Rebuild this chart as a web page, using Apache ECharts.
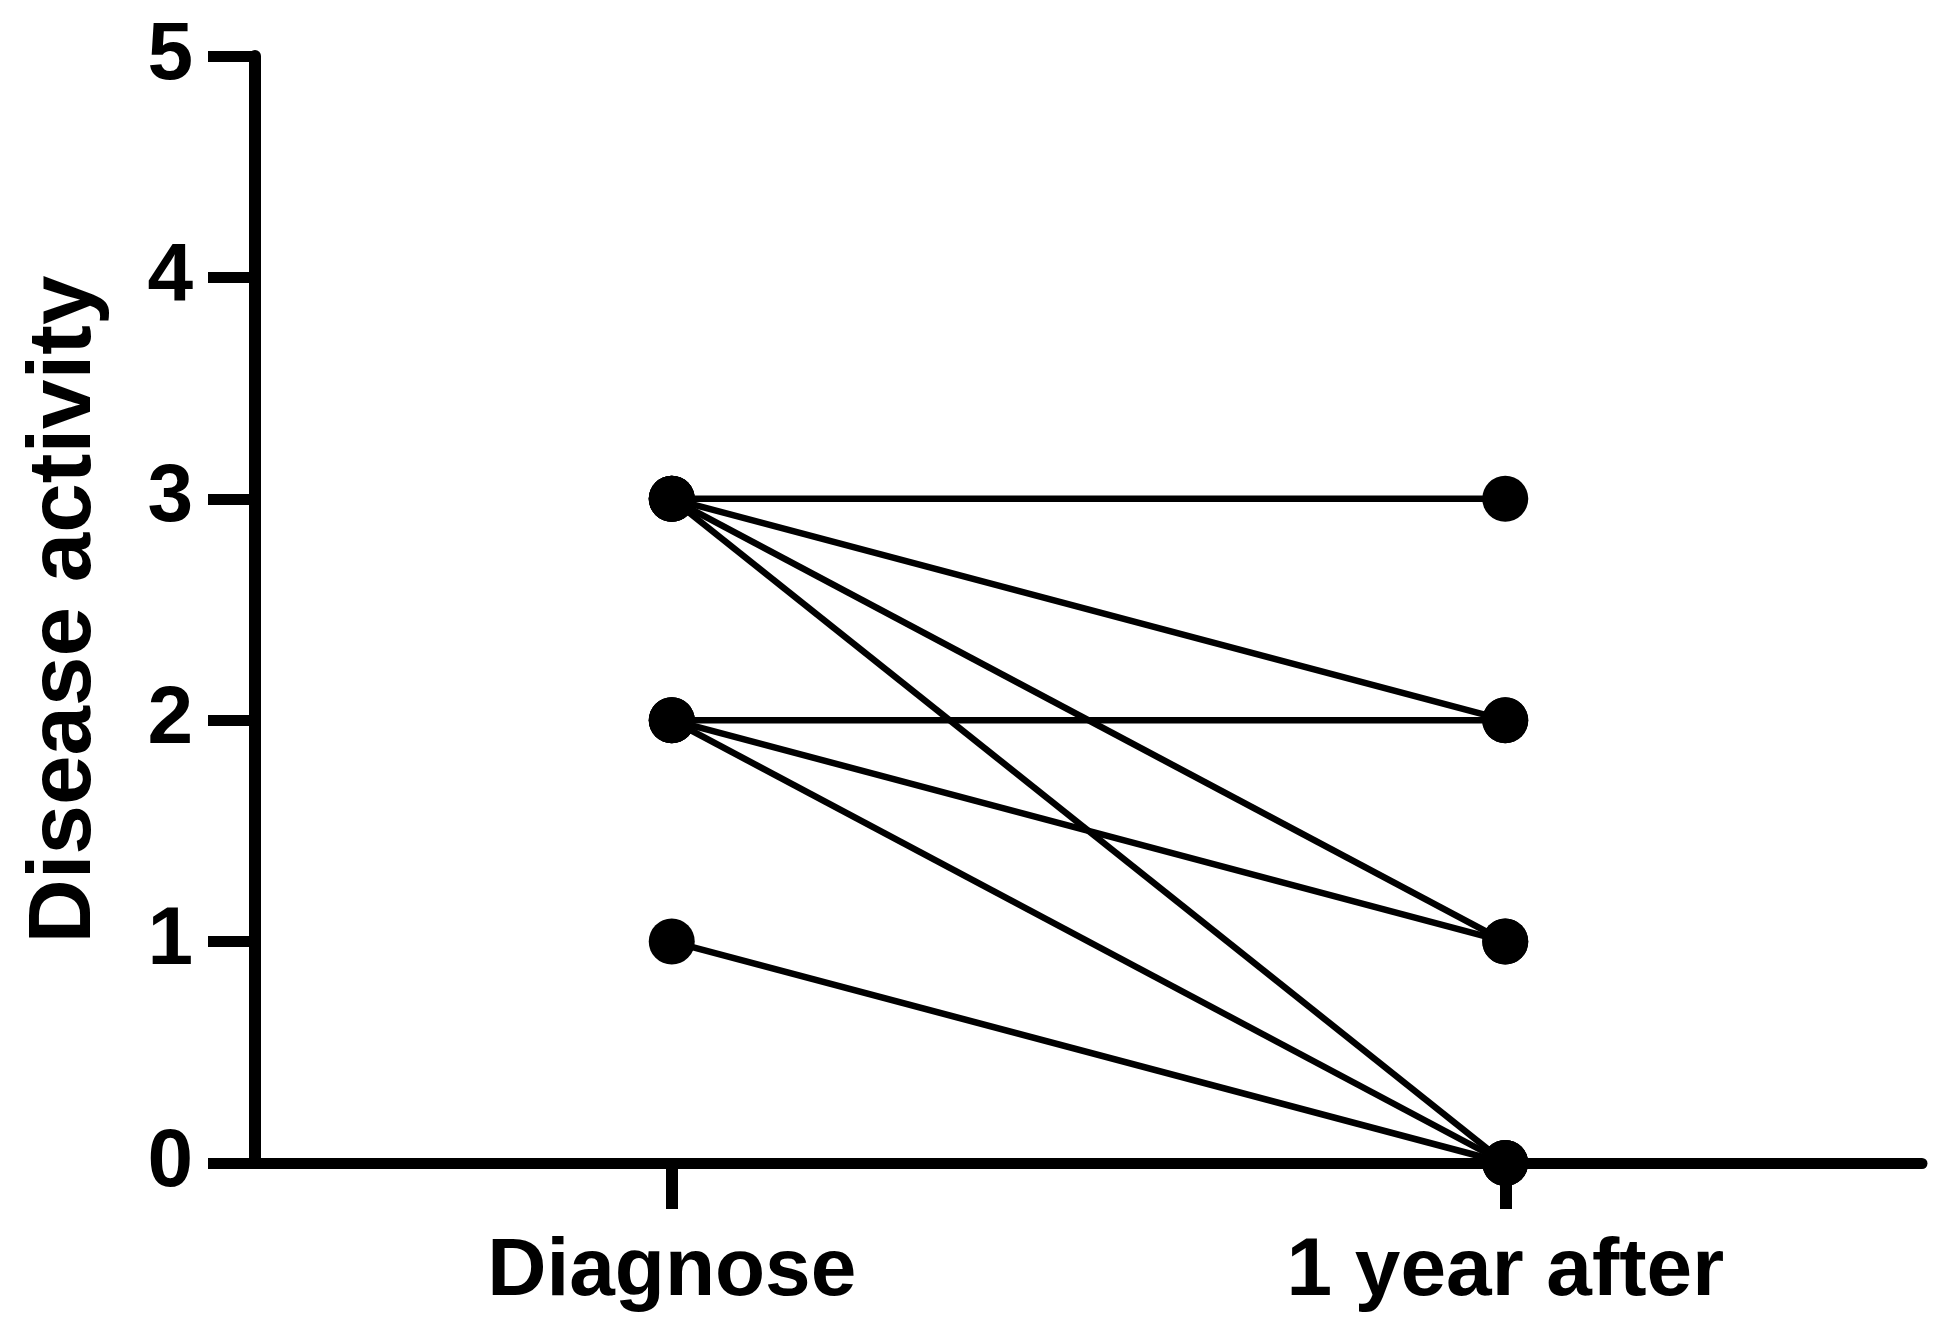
<!DOCTYPE html>
<html>
<head>
<meta charset="utf-8">
<script src="https://cdn.jsdelivr.net/npm/echarts@6/dist/echarts.min.js"></script>
<style>
html, body { margin: 0; padding: 0; background: #fff; }
#chart { width: 1944px; height: 1336px; }
</style>
</head>
<body>
<div id="chart"></div>
<script>
// paired values, one pair per patient
const categories = ['Diagnose', '1 year after']
const atDiagnose = [3, 3, 3, 3, 2, 2, 2, 1]
const oneYearAfter = [3, 2, 1, 0, 2, 1, 0, 0]
const yTicks = [0, 1, 2, 3, 4, 5]

const font = 'Arial, "Liberation Sans", Helvetica, sans-serif'

const chart = echarts.init(document.getElementById('chart'))

const series = atDiagnose.map(function (v, i) {
  return {
    type: 'line',
    data: [v, oneYearAfter[i]],
    symbol: 'circle',
    symbolSize: 46,
    showSymbol: true,
    lineStyle: { color: '#000', width: 6.5 },
    itemStyle: { color: '#000' },
    animation: false
  }
})

chart.setOption({
  backgroundColor: '#fff',
  animation: false,
  grid: {
    left: 255,
    right: 22,
    top: 56,
    bottom: 173
  },
  xAxis: {
    type: 'category',
    data: categories,
    boundaryGap: true,
    axisLine: {
      show: true,
      lineStyle: { color: '#000', width: 11 }
    },
    axisTick: {
      show: true,
      alignWithLabel: true,
      length: 46,
      lineStyle: { color: '#000', width: 12 }
    },
    axisLabel: {
      margin: 68,
      color: '#000',
      fontFamily: font,
      fontWeight: 'bold',
      fontSize: 82
    },
    splitLine: { show: false }
  },
  yAxis: {
    type: 'value',
    min: yTicks[0],
    max: yTicks[yTicks.length - 1],
    interval: 1,
    name: 'Disease activity',
    nameLocation: 'middle',
    nameGap: 145,
    nameTextStyle: {
      color: '#000',
      fontFamily: font,
      fontWeight: 'bold',
      fontSize: 89
    },
    axisLine: {
      show: true,
      lineStyle: { color: '#000', width: 12 }
    },
    axisTick: {
      show: true,
      length: 47,
      lineStyle: { color: '#000', width: 11 }
    },
    axisLabel: {
      margin: 62,
      color: '#000',
      fontFamily: font,
      fontWeight: 'bold',
      fontSize: 82
    },
    splitLine: { show: false }
  },
  series: series
})
</script>
</body>
</html>
